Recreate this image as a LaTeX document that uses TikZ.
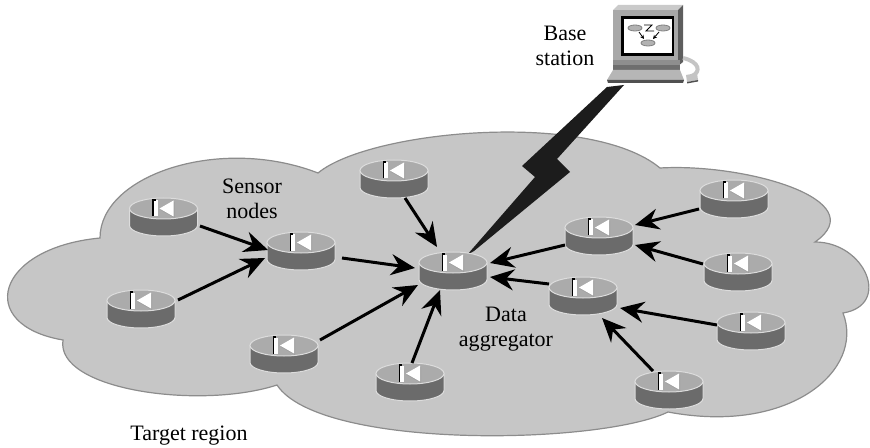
\documentclass[tikz,border=0pt]{standalone}
\usepackage{fontspec}
\setmainfont{Liberation Serif}
\usetikzlibrary{arrows.meta,calc}
\definecolor{cloudgray}{HTML}{C6C6C6}
\definecolor{cloudline}{HTML}{8C8C8C}
\definecolor{rtop}{HTML}{ABABAB}
\definecolor{rside}{HTML}{6B6B6B}
\definecolor{rrim}{HTML}{DCDCDC}
\definecolor{boltblack}{HTML}{1C1C1C}
\definecolor{pcface}{HTML}{A8A8A8}
\definecolor{pctop}{HTML}{CACACA}
\definecolor{pcside}{HTML}{5E5E5E}
\definecolor{pcstrip}{HTML}{8E8E8E}
\definecolor{pckey}{HTML}{B6B6B6}
\definecolor{pcedge}{HTML}{505050}
\definecolor{pccable}{HTML}{C4C4C4}
\begin{document}
\begin{tikzpicture}[x=0.5pt,y=-0.5pt,every node/.style={font=\fontsize{11}{12.5}\selectfont,align=center},
  router/.style={minimum width=37pt,minimum height=21pt,inner sep=0pt,outer sep=0pt,
    path picture={
      \begin{scope}[shift={(path picture bounding box.center)}]
        \filldraw[fill=rside,draw=rrim,line width=0.5pt] (-34,-8.5) -- (-34,8.5)
          arc[start angle=180,end angle=0,x radius=34,y radius=10.5] -- (34,-8.5) -- cycle;
        \filldraw[fill=rtop,draw=rrim,line width=0.5pt] (0,-8.5) ellipse[x radius=34,y radius=10.5];
        \fill[gray!75] (-3,-7) -- (11,-15) -- (11,1) -- cycle;
        \fill[white] (-4,-8.5) -- (10,-16.5) -- (10,-0.5) -- cycle;
        \fill[white] (-10,-16.5) rectangle (-6,-0.5);
        \draw[black,line width=0.6pt] (-10.5,-0.5) -- (-10.5,-17) -- (-8,-17);
      \end{scope}}},
  link/.style={line width=1.5pt,-{Stealth[length=12pt,width=10.5pt,inset=4pt]}}]
\useasboundingbox (0,0) rectangle (870,448);
% target region
\filldraw[fill=cloudgray,draw=cloudline,line width=0.6pt]
  (100,238) .. controls (100,175) and (220,135) .. (318,173)
  .. controls (370,130) and (590,110) .. (660,168)
  .. controls (745,163) and (875,200) .. (815,242)
  .. controls (865,242) and (892,305) .. (843,313)
  .. controls (865,370) and (790,435) .. (668,412)
  .. controls (600,445) and (320,450) .. (277,385)
  .. controls (200,410) and (55,390) .. (63,340)
  .. controls (-25,325) and (-5,248) .. cycle;
% radio link up to the base station
\fill[boltblack] (467,255) -- (535,177) -- (522,166) -- (607,87) -- (624,85)
  -- (557,159) -- (570,172) -- (474,251) -- cycle;
% base station terminal
\fill[pctop] (613,10) -- (618,5) -- (683,5) -- (678,10) -- cycle;
\fill[pcside] (678,10) -- (683,5) -- (683,62) -- (678,66) -- cycle;
\fill[pcface] (613,10) rectangle (678,60);
\fill[black] (621,16) rectangle (674,56);
\fill[white] (624,19) rectangle (672,53);
\foreach \px/\py in {635/28,663/28,648/43}
  \filldraw[fill=gray!60,draw=gray] (\px,\py) ellipse[x radius=7,y radius=3];
\draw[line width=0.4pt] (644,25) -- (652,25) -- (646,31) -- (654,31);
\draw[line width=0.4pt,-{Stealth[length=2pt,width=2pt]}] (639,32) -- (644,39);
\draw[line width=0.4pt,-{Stealth[length=2pt,width=2pt]}] (659,32) -- (653,39);
\fill[pcstrip] (613,60) rectangle (680,65);
\fill[pcside!90] (613,65) rectangle (680,70);
\fill[pckey] (613,70) -- (680,70) -- (684,80) -- (607,80) -- cycle;
\fill[pcedge] (607,80) -- (684,80) -- (683,83) -- (608,83) -- cycle;
\draw[pccable,line width=2pt] (683,58) .. controls (700,62) and (701,72) .. (692,76);
\fill[pccable] (686,75) -- (697,73) -- (698,80) -- (687,82) -- cycle;
\fill[pcedge] (687,82) -- (698,80) -- (698,81.5) -- (687,83.5) -- cycle;
% sensor nodes
\node[router] (r1) at (163.5,217) {};
\node[router] (r2) at (301,251) {};
\node[router] (r3) at (141,309) {};
\node[router] (r4) at (284,354) {};
\node[router] (r5) at (410,382) {};
\node[router] (r6) at (394,179) {};
\node[router] (agg) at (453,271) {};
\node[router] (r8) at (599,236) {};
\node[router] (r9) at (583,296) {};
\node[router] (r10) at (734,199) {};
\node[router] (r11) at (738,272) {};
\node[router] (r12) at (751,331) {};
\node[router] (r13) at (669,390) {};
% data flow towards the aggregator
\draw[link] ($(r1)+(36.5,9)$) -- ($(r2)+(-33,-1)$);
\draw[link] ($(r3)+(37,-9)$) -- ($(r2)+(-36,7)$);
\draw[link] ($(r2)+(41,7)$) -- ($(agg)+(-38,-3)$);
\draw[link] ($(r6)+(11,19)$) -- ($(agg)+(-16,-24)$);
\draw[link] ($(r4)+(36,-14)$) -- ($(agg)+(-35,14)$);
\draw[link] ($(r5)+(2,-19)$) -- ($(agg)+(-13,19)$);
\draw[link] ($(r8)+(-34,9)$) -- ($(agg)+(37,-8)$);
\draw[link] ($(r9)+(-34,-12)$) -- ($(agg)+(37,6)$);
\draw[link] ($(r10)+(-35,10)$) -- ($(r8)+(36,-11)$);
\draw[link] ($(r11)+(-35,-8)$) -- ($(r8)+(36,9)$);
\draw[link] ($(r12)+(-34,-6)$) -- ($(r9)+(37,12)$);
\draw[link] ($(r13)+(-16,-19)$) -- ($(r9)+(19,22)$);
% labels
\node (basetxt) at (565,46) {Base\\station};
\node (sensortxt) at (252,199) {Sensor\\nodes};
\node (aggtxt) at (506,329) {Data\\aggregator};
\node (regiontxt) at (189,436) {Target region};
\end{tikzpicture}
\end{document}
